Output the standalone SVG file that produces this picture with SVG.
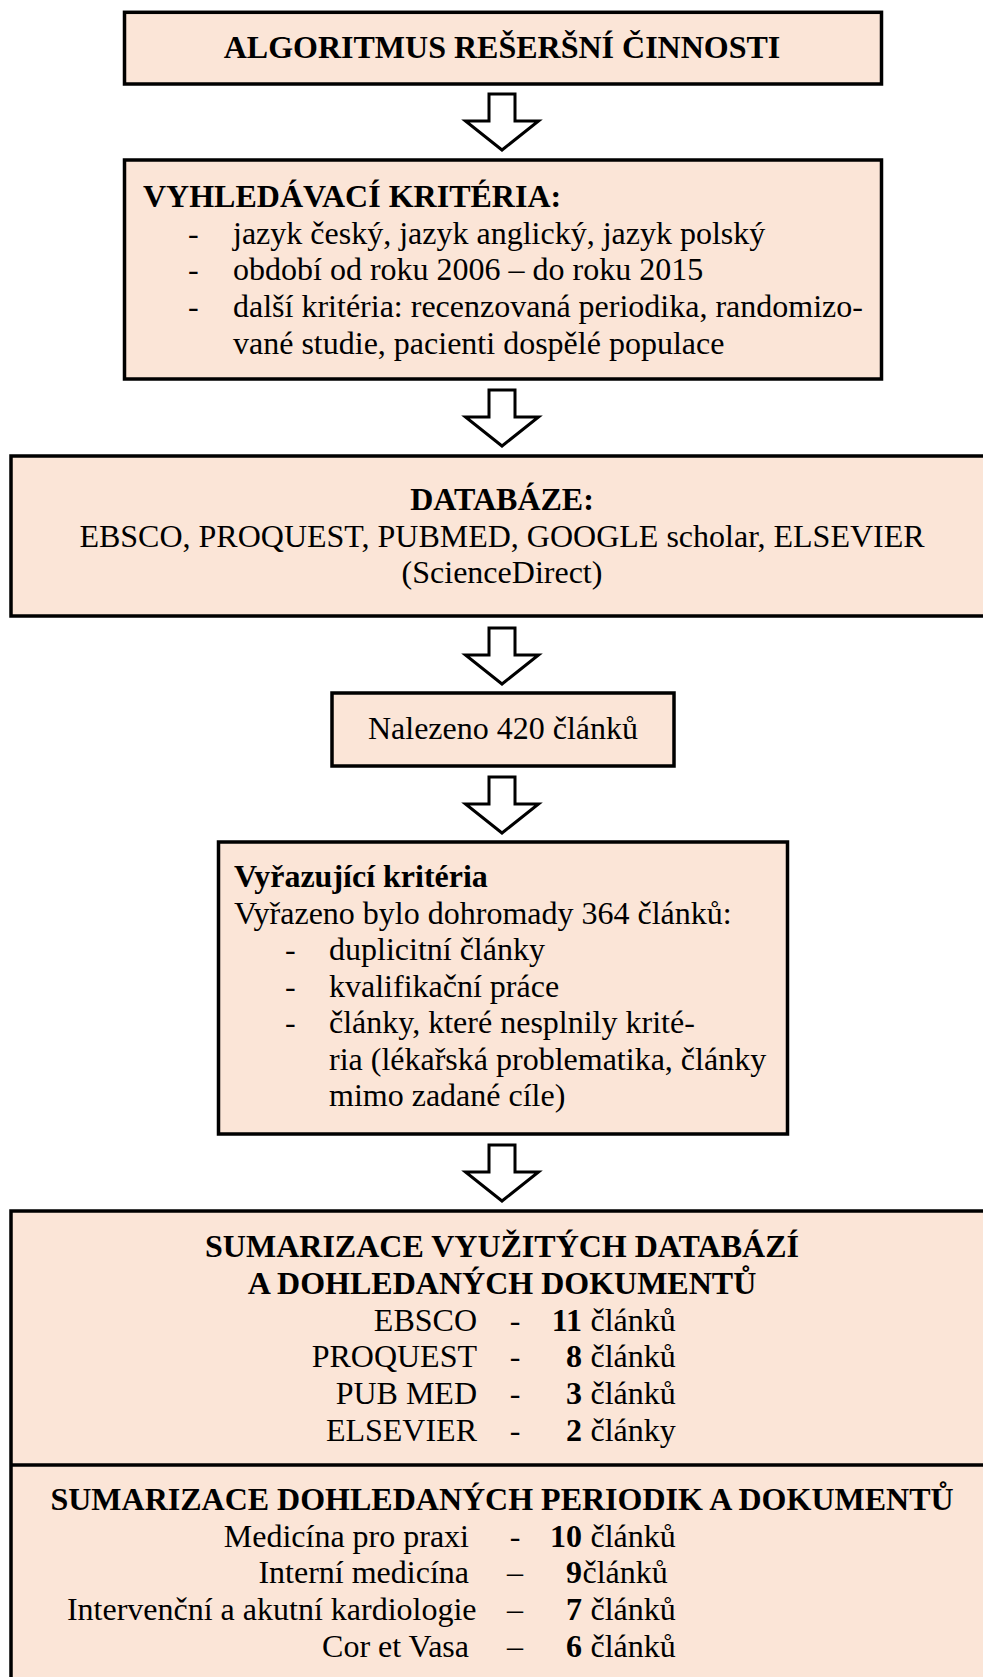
<svg xmlns="http://www.w3.org/2000/svg" xmlns:xlink="http://www.w3.org/1999/xlink" width="983" height="1677" viewBox="0 0 983 1677">
<style>
.box{fill:#FBE5D7;stroke:#000;stroke-width:3.5}
.t{font-family:"Liberation Serif","Times New Roman",serif;font-size:32px;fill:#000}
.b{font-weight:bold}
.c{text-anchor:middle}
.e{text-anchor:end}
.arr{fill:#fff;stroke:#000;stroke-width:3;stroke-linejoin:miter}
</style>
<defs>
<path id="downArrow" d="M-13,0 H13 V27 H36.5 L0,56 L-36.5,27 H-13 Z"/>
</defs>
<rect width="983" height="1677" fill="#fff"/>

<g id="connectors">
<use xlink:href="#downArrow" href="#downArrow" class="arr" x="502" y="94"/>
<use xlink:href="#downArrow" href="#downArrow" class="arr" x="502" y="390"/>
<use xlink:href="#downArrow" href="#downArrow" class="arr" x="502" y="628"/>
<use xlink:href="#downArrow" href="#downArrow" class="arr" x="502" y="777"/>
<use xlink:href="#downArrow" href="#downArrow" class="arr" x="502" y="1145"/>
</g>

<g id="node-title">
<rect class="box" x="124.5" y="12.3" width="757" height="71.7"/>
<text class="t b c" x="502" y="58">ALGORITMUS REŠERŠNÍ ČINNOSTI</text>
</g>

<g id="node-criteria">
<rect class="box" x="124.5" y="160" width="757" height="219"/>
<text class="t b" x="143" y="207">VYHLEDÁVACÍ KRITÉRIA:</text>
<text class="t" x="188" y="243.7">-</text>
<text class="t" x="233" y="243.7">jazyk český, jazyk anglický, jazyk polský</text>
<text class="t" x="188" y="280.4">-</text>
<text class="t" x="233" y="280.4">období od roku 2006 – do roku 2015</text>
<text class="t" x="188" y="317">-</text>
<text class="t" x="233" y="317">další kritéria: recenzovaná periodika, randomizo-</text>
<text class="t" x="233" y="353.8">vané studie, pacienti dospělé populace</text>
</g>

<g id="node-databases">
<rect class="box" x="11" y="456" width="990" height="160"/>
<text class="t b c" x="502" y="510">DATABÁZE:</text>
<text class="t c" x="502" y="546.7">EBSCO, PROQUEST, PUBMED, GOOGLE scholar, ELSEVIER</text>
<text class="t c" x="502" y="583.4">(ScienceDirect)</text>
</g>

<g id="node-found">
<rect class="box" x="332" y="693" width="342" height="73"/>
<text class="t c" x="503" y="739">Nalezeno 420 článků</text>
</g>

<g id="node-exclusion">
<rect class="box" x="218.5" y="842" width="569" height="292"/>
<text class="t b" x="234" y="887">Vyřazující kritéria</text>
<text class="t" x="234" y="923.5">Vyřazeno bylo dohromady 364 článků:</text>
<text class="t" x="285" y="960">-</text>
<text class="t" x="329" y="960">duplicitní články</text>
<text class="t" x="285" y="996.5">-</text>
<text class="t" x="329" y="996.5">kvalifikační práce</text>
<text class="t" x="285" y="1033">-</text>
<text class="t" x="329" y="1033">články, které nesplnily krité-</text>
<text class="t" x="329" y="1069.5">ria (lékařská problematika, články</text>
<text class="t" x="329" y="1106">mimo zadané cíle)</text>
</g>

<g id="node-summary">
<rect class="box" x="11" y="1211" width="990" height="500"/>
<line x1="11" y1="1465" x2="990" y2="1465" stroke="#000" stroke-width="3.5"/>
<text class="t b c" x="502" y="1257">SUMARIZACE VYUŽITÝCH DATABÁZÍ</text>
<text class="t b c" x="502" y="1294">A DOHLEDANÝCH DOKUMENTŮ</text>

<text class="t e" x="477" y="1330.7">EBSCO</text>
<text class="t c" x="515" y="1330.7">-</text>
<text class="t b e" x="582" y="1330.7">11</text>
<text class="t" x="590.5" y="1330.7">článků</text>

<text class="t e" x="477" y="1367.3">PROQUEST</text>
<text class="t c" x="515" y="1367.3">-</text>
<text class="t b e" x="582" y="1367.3">8</text>
<text class="t" x="590.5" y="1367.3">článků</text>

<text class="t e" x="477" y="1404">PUB MED</text>
<text class="t c" x="515" y="1404">-</text>
<text class="t b e" x="582" y="1404">3</text>
<text class="t" x="590.5" y="1404">článků</text>

<text class="t e" x="477" y="1440.7">ELSEVIER</text>
<text class="t c" x="515" y="1440.7">-</text>
<text class="t b e" x="582" y="1440.7">2</text>
<text class="t" x="590.5" y="1440.7">články</text>

<text class="t b c" x="502" y="1510">SUMARIZACE DOHLEDANÝCH PERIODIK A DOKUMENTŮ</text>

<text class="t e" x="469" y="1546.7">Medicína pro praxi</text>
<text class="t c" x="515" y="1546.7">-</text>
<text class="t b e" x="582" y="1546.7">10</text>
<text class="t" x="590.5" y="1546.7">článků</text>

<text class="t e" x="469" y="1583.4">Interní medicína</text>
<text class="t c" x="515" y="1583.4">–</text>
<text class="t b e" x="582" y="1583.4">9</text>
<text class="t" x="582.5" y="1583.4">článků</text>

<text class="t e" x="476.5" y="1620">Intervenční a akutní kardiologie</text>
<text class="t c" x="515" y="1620">–</text>
<text class="t b e" x="582" y="1620">7</text>
<text class="t" x="590.5" y="1620">článků</text>

<text class="t e" x="469" y="1656.7">Cor et Vasa</text>
<text class="t c" x="515" y="1656.7">–</text>
<text class="t b e" x="582" y="1656.7">6</text>
<text class="t" x="590.5" y="1656.7">článků</text>
</g>
</svg>
